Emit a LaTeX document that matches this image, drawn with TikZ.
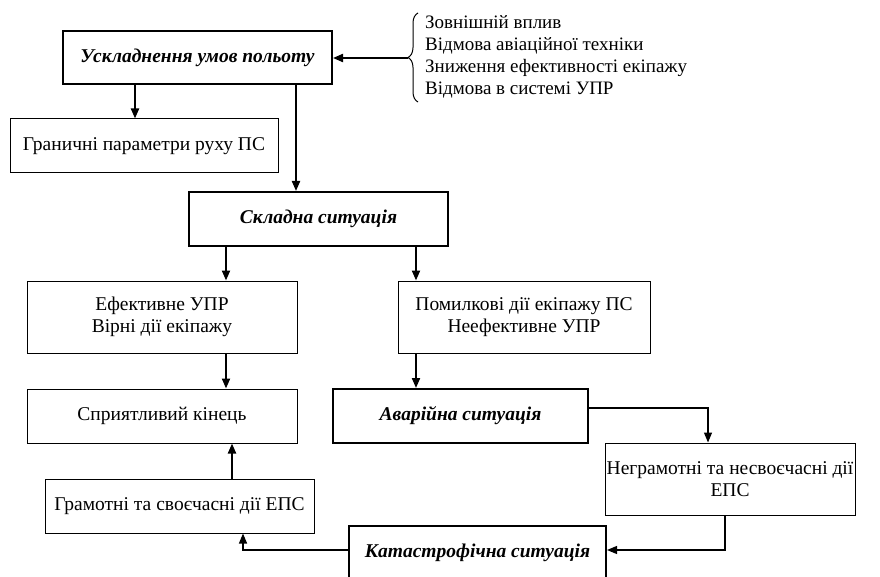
\documentclass[tikz,border=0pt]{standalone}
\usepackage{fontspec}
\setmainfont{Liberation Serif}
\usetikzlibrary{arrows.meta,decorations.pathreplacing}
\begin{document}
\begin{tikzpicture}[x=1pt,y=-1pt,
  thinbox/.style={draw, line width=1pt, inner sep=0pt, align=center, font=\fontsize{19.5}{22}\selectfont},
  thickbox/.style={draw, line width=2pt, inner sep=0pt, align=center, font=\fontsize{19.5}{22}\selectfont\bfseries\itshape},
  arr/.style={line width=2pt, -{Triangle[length=10pt,width=8pt]}},
  arrthin/.style={line width=1.2pt, -{Triangle[length=10pt,width=8pt]}},
  list/.style={inner sep=0pt, align=left, anchor=west, font=\fontsize{19}{22}\selectfont}]
\useasboundingbox (0,0) rectangle (880,577);
\fill[white] (0,0) rectangle (880,577);
% boxes
\node[thickbox, minimum width=269pt, minimum height=53pt] (b1) at (197.5,57.5) {Ускладнення умов польоту};
\node[thinbox, minimum width=268pt, minimum height=54pt] (b2) at (144,146) {Граничні параметри руху ПС};
\node[thickbox, minimum width=259pt, minimum height=54pt] (b3) at (318.5,219) {Складна ситуація};
\node[thinbox, minimum width=270pt, minimum height=72pt] (b4) at (162,317) {Ефективне УПР\\Вірні дії екіпажу};
\node[thinbox, minimum width=252pt, minimum height=72pt] (b5) at (524,317) {Помилкові дії екіпажу ПС\\Неефективне УПР};
\node[thinbox, minimum width=270pt, minimum height=54pt] (b6) at (162,416) {Сприятливий кінець};
\node[thickbox, minimum width=255pt, minimum height=54pt] (b7) at (460.5,416) {Аварійна ситуація};
\node[thinbox, minimum width=250pt, minimum height=72pt] (b8) at (730,479) {Неграмотні та несвоєчасні дії\\ЕПС};
\node[thickbox, minimum width=257pt, minimum height=54pt] (b9) at (477.5,553) {Катастрофічна ситуація};
\node[thinbox, minimum width=269pt, minimum height=54pt] (b10) at (179.5,506) {Грамотні та своєчасні дії ЕПС};
% list with brace
\node[list] (lst) at (425,57) {Зовнішній вплив\\Відмова авіаційної техніки\\Зниження ефективності екіпажу\\Відмова в системі УПР};
\draw[line width=1pt, decorate, decoration={brace, amplitude=10pt}] (418,102) -- (418,13);
\coordinate (tip) at (408,58);
% helper coordinates
\coordinate (x135) at (135,0);
\coordinate (x296) at (296,0);
\coordinate (x226) at (226,0);
\coordinate (x416) at (416,0);
\coordinate (x708) at (708,0);
\coordinate (x725) at (725,0);
\coordinate (x243) at (243,0);
\coordinate (x232) at (232,0);
\coordinate (y408) at (0,408);
\coordinate (y550) at (0,550);
% connectors
\draw[arr] (tip) -- (tip -| b1.east);
\draw[arr] (b1.south -| x135) -- (b2.north -| x135);
\draw[arr] (b1.south -| x296) -- (b3.north -| x296);
\draw[arr] (b3.south -| x226) -- (b4.north -| x226);
\draw[arr] (b3.south -| x416) -- (b5.north -| x416);
\draw[arr] (b4.south -| x226) -- (b6.north -| x226);
\draw[arr] (b5.south -| x416) -- (b7.north -| x416);
\draw[arrthin] (b7.east |- y408) -| (b8.north -| x708);
\draw[arrthin] (b8.south -| x725) |- (b9.east |- y550);
\draw[arrthin] (b9.west |- y550) -| (b10.south -| x243);
\draw[arr] (b10.north -| x232) -- (b6.south -| x232);
\end{tikzpicture}
\end{document}
